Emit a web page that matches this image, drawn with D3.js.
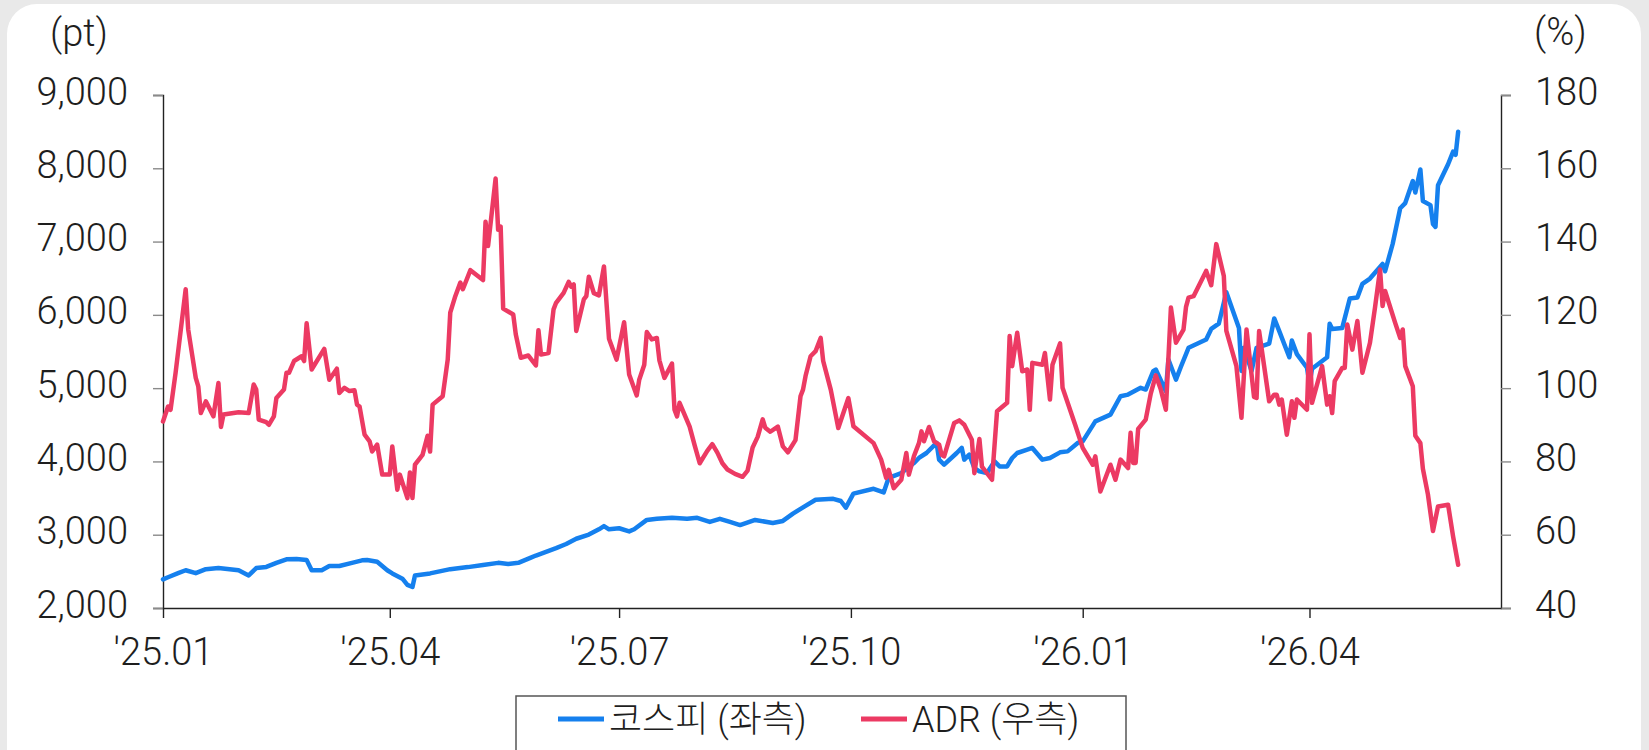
<!DOCTYPE html>
<html>
<head>
<meta charset="utf-8">
<script src="https://cdn.jsdelivr.net/npm/d3@7"></script>
<style>
    html, body { margin: 0; padding: 0; background: #e9e9e9; }
    #chart-area { width: 1649px; height: 750px; overflow: hidden; }
</style>
</head>
<body>
<div id="chart-area"></div>
<script>
// day offsets are counted from 2025-01-01
var startDay = "2025-01-01";

var kospiDays = [0, 2, 6, 9, 13, 17, 22, 30, 34, 37, 41, 45, 49, 53, 57, 59, 63, 66, 70, 75,
    79, 81, 85, 89, 91, 95, 97, 99, 100, 106, 114, 121, 127, 133, 137, 141, 146, 148, 156, 160,
    164, 169, 173, 175, 177, 181, 185, 187, 192, 196, 202, 208, 212, 217, 221, 225, 229, 235, 242, 246,
    250, 254, 259, 266, 269, 271, 274, 282, 286, 288, 293, 298, 300, 303, 307, 308, 310, 315, 317, 318,
    320, 322, 324, 327, 330, 332, 335, 337, 339, 343, 345, 349, 352, 356, 359, 363, 365, 370, 376, 380,
    383, 388, 390, 393, 394, 398, 399, 402, 404, 407, 414, 416, 419, 422, 427, 428, 429, 432, 434, 439,
    441, 443, 447, 448, 450, 454, 455, 456, 462, 463, 464, 468, 471, 474, 476, 479, 484, 485, 488, 491,
    493, 496, 497, 499, 500, 503, 504, 505, 506, 510, 512, 513, 514];
var kospiValues = [2390, 2420, 2475, 2515, 2475, 2530, 2545, 2515, 2445, 2545, 2560, 2615, 2665, 2670, 2655, 2515, 2515, 2573, 2573, 2616,
    2650, 2655, 2630, 2515, 2472, 2400, 2315, 2286, 2444, 2472, 2530, 2558, 2587, 2616, 2601, 2616, 2687, 2716, 2816, 2873,
    2945, 3002, 3074, 3117, 3074, 3088, 3045, 3074, 3202, 3217, 3231, 3217, 3231, 3174, 3217, 3174, 3131, 3202, 3159, 3188,
    3288, 3374, 3477, 3490, 3460, 3370, 3560, 3627, 3577, 3777, 3841, 3978, 4047, 4115, 4252, 4024, 3955, 4115, 4184, 4024,
    4092, 3910, 3864, 3841, 4000, 3932, 3932, 4047, 4115, 4160, 4184, 4024, 4047, 4124, 4137, 4252, 4274, 4547, 4639, 4889,
    4912, 5004, 4981, 5231, 5254, 4957, 5391, 5117, 5295, 5550, 5664, 5808, 5879, 6309, 5822, 5235, 5550, 5235, 5550, 5607,
    5951, 5779, 5421, 5650, 5464, 5278, 5063, 5264, 5421, 5879, 5808, 5822, 6223, 6237, 6423, 6495, 6695, 6595, 6967, 7454,
    7525, 7826, 7669, 7983, 7554, 7497, 7239, 7200, 7769, 8055, 8227, 8184, 8499];

var adrDays = [0, 2, 3, 5, 9, 10, 13, 14, 15, 17, 20, 22, 23, 24, 30, 34, 36, 37, 38, 41,
    42, 44, 45, 48, 49, 50, 52, 55, 56, 57, 59, 64, 66, 69, 70, 72, 74, 76, 77, 78,
    80, 82, 83, 85, 87, 90, 91, 93, 94, 97, 98, 99, 100, 103, 105, 106, 107, 111, 113, 114,
    116, 118, 119, 122, 127, 128, 129, 132, 133, 134, 135, 139, 140, 142, 145, 148, 149, 150, 153, 155,
    156, 159, 161, 162, 163, 164, 167, 168, 169, 171, 173, 175, 177, 180, 183, 185, 188, 189, 191, 192,
    194, 196, 197, 199, 202, 203, 204, 205, 209, 211, 213, 216, 218, 220, 222, 224, 227, 230, 232, 234,
    236, 238, 239, 241, 244, 246, 248, 251, 253, 254, 255, 257, 259, 261, 262, 265, 268, 272, 274, 282,
    285, 287, 288, 290, 293, 295, 296, 298, 300, 301, 302, 304, 306, 308, 309, 310, 314, 316, 318, 321,
    322, 324, 325, 329, 331, 335, 336, 337, 339, 341, 343, 344, 345, 349, 350, 352, 353, 356, 357, 362,
    365, 369, 370, 372, 376, 378, 380, 383, 384, 385, 386, 387, 390, 392, 394, 396, 398, 400, 402, 405,
    406, 407, 409, 414, 416, 418, 421, 422, 426, 428, 430, 433, 434, 435, 437, 439, 441, 442, 443, 444,
    446, 448, 449, 450, 454, 455, 456, 460, 462, 463, 464, 465, 468, 469, 470, 472, 474, 476, 479, 481,
    483, 484, 485, 489, 491, 492, 493, 496, 497, 499, 500, 502, 504, 506, 510, 512, 514];
var adrValues = [90.9, 95.0, 94.1, 104.2, 127.0, 116.0, 102.8, 100.5, 93.2, 96.4, 92.3, 101.4, 89.4, 92.8, 93.4, 93.2, 101.0, 99.6, 91.4, 90.7,
    90.0, 92.3, 97.3, 99.6, 104.2, 104.2, 107.4, 108.7, 107.4, 117.7, 105.1, 110.7, 102.3, 105.3, 98.7, 100.1, 99.2, 99.4, 95.5, 95.0,
    87.3, 85.5, 82.7, 84.6, 76.4, 76.4, 84.1, 72.3, 76.4, 70.0, 77.0, 70.0, 79.1, 81.8, 87.0, 82.7, 95.5, 97.8, 107.8, 120.6,
    125.1, 128.8, 127.0, 132.2, 129.5, 145.4, 138.8, 157.2, 143.2, 144.1, 121.7, 120.1, 114.7, 108.3, 108.9, 106.2, 115.8, 109.2, 109.6, 121.5,
    123.3, 126.0, 129.0, 127.7, 128.3, 115.6, 124.2, 125.1, 130.4, 125.9, 125.3, 133.2, 113.5, 107.8, 118.0, 103.7, 98.0, 102.3, 106.4, 115.3,
    113.3, 113.7, 107.6, 102.8, 106.7, 94.1, 92.3, 96.0, 89.5, 84.4, 79.5, 82.9, 84.7, 82.4, 79.5, 77.8, 76.6, 75.8, 77.5, 83.8,
    86.7, 91.5, 89.2, 88.1, 89.5, 84.1, 82.5, 85.8, 97.8, 99.6, 103.3, 108.7, 110.1, 113.7, 107.4, 99.6, 89.1, 97.3, 89.6, 85.0,
    80.5, 75.5, 77.7, 72.7, 75.0, 82.3, 76.4, 81.4, 85.0, 88.2, 85.5, 89.4, 85.5, 84.6, 81.8, 81.4, 90.5, 91.2, 90.0, 85.9,
    76.8, 86.1, 78.6, 75.0, 93.7, 96.0, 114.2, 106.0, 115.1, 104.6, 105.1, 94.1, 106.9, 106.4, 109.6, 96.9, 106.4, 112.2, 100.1, 90.0,
    83.7, 79.1, 81.4, 71.8, 79.1, 75.0, 80.5, 78.2, 87.8, 79.6, 79.6, 88.9, 91.4, 98.5, 103.5, 99.6, 94.1, 122.0, 112.4, 116.0,
    122.2, 124.7, 125.1, 132.0, 128.1, 139.3, 130.6, 115.6, 106.0, 91.9, 116.0, 97.6, 97.3, 115.6, 106.0, 96.4, 98.2, 98.2, 95.5, 96.9,
    87.3, 96.4, 91.9, 96.9, 94.1, 114.7, 96.0, 106.0, 95.5, 97.8, 93.2, 101.9, 105.5, 105.5, 117.4, 110.5, 118.3, 104.2, 112.4, 122.0,
    132.4, 122.4, 126.5, 117.8, 113.7, 116.0, 106.0, 100.5, 87.0, 85.0, 78.0, 71.0, 61.0, 67.7, 68.2, 59.5, 51.8];

var leftTicks  = [2000, 3000, 4000, 5000, 6000, 7000, 8000, 9000];
var rightTicks = [40, 60, 80, 100, 120, 140, 160, 180];
var xTicks     = ["2025-01-01", "2025-04-01", "2025-07-01", "2025-10-01", "2026-01-01", "2026-04-01"];
var xEnd       = "2026-06-16";
var seriesNames = ["코스피 (좌측)", "ADR (우측)"];
var seriesColors = ["#1580ee", "#ec3a63"];

var FONT = "Roboto, 'Noto Sans CJK KR', sans-serif";

var parseDay = d3.timeParse("%Y-%m-%d");
var start = parseDay(startDay);

var kospi = kospiDays.map((d, i) => ({ date: d3.timeDay.offset(start, d), value: kospiValues[i] }));
var adr   = adrDays.map((d, i) => ({ date: d3.timeDay.offset(start, d), value: adrValues[i] }));

var svg = d3.select("#chart-area")
            .append("svg")
            .attr("width", 1649)
            .attr("height", 750)
            .style("font-family", FONT);

// white card
svg.append("rect")
   .attr("x", 7).attr("y", 4)
   .attr("width", 1634).attr("height", 820)
   .attr("rx", 30).attr("ry", 30)
   .attr("fill", "#ffffff");

var plot = { left: 163, right: 1501, top: 95, bottom: 608 };

var x = d3.scaleTime()
          .domain([start, parseDay(xEnd)])
          .range([plot.left, plot.right]);

var yLeft = d3.scaleLinear().domain([2000, 9000]).range([plot.bottom, plot.top]);
var yRight = d3.scaleLinear().domain([40, 180]).range([plot.bottom, plot.top]);

function styleAxis(g) {
    g.select(".domain").attr("stroke", "#222").attr("stroke-width", 1.4);
    g.selectAll(".tick text")
     .attr("fill", "#1e1e1e")
     .attr("font-size", 38)
     .attr("font-weight", 300)
     .attr("font-family", FONT);
}

// left axis
var yLeftAxis = d3.axisLeft(yLeft)
                  .tickValues(leftTicks)
                  .tickFormat(d3.format(","))
                  .tickSize(10)
                  .tickPadding(25);
var gl = svg.append("g")
            .attr("transform", "translate(" + plot.left + ",0)")
            .call(yLeftAxis)
            .call(styleAxis);
gl.selectAll(".tick line").attr("stroke", "#8a8a8a").attr("stroke-width", 1.4);
gl.selectAll(".tick text").attr("dy", "0.24em");

// right axis
var yRightAxis = d3.axisRight(yRight)
                   .tickValues(rightTicks)
                   .tickSize(10)
                   .tickPadding(24);
var gr = svg.append("g")
            .attr("transform", "translate(" + plot.right + ",0)")
            .call(yRightAxis)
            .call(styleAxis);
gr.selectAll(".tick line").attr("stroke", "#8a8a8a").attr("stroke-width", 1.4);
gr.selectAll(".tick text").attr("dy", "0.24em");

// x axis
var xAxis = d3.axisBottom(x)
              .tickValues(xTicks.map(parseDay))
              .tickFormat(d3.timeFormat("'%y.%m"))
              .tickSize(10)
              .tickSizeOuter(0)
              .tickPadding(20);
var gx = svg.append("g")
            .attr("transform", "translate(0," + plot.bottom + ")")
            .call(xAxis)
            .call(styleAxis);
gx.selectAll(".tick line").attr("stroke", "#222").attr("stroke-width", 1.4);

// unit labels
svg.append("text").attr("x", 50).attr("y", 46)
   .attr("font-size", 38).attr("font-weight", 300).attr("fill", "#1e1e1e")
   .text("(pt)");
svg.append("text").attr("x", 1534).attr("y", 45)
   .attr("font-size", 38).attr("font-weight", 300).attr("fill", "#1e1e1e")
   .text("(%)");

// lines
var lineLeft = d3.line().x((d) => x(d.date)).y((d) => yLeft(d.value));
var lineRight = d3.line().x((d) => x(d.date)).y((d) => yRight(d.value));

svg.append("path")
   .datum(kospi)
   .attr("d", lineLeft)
   .attr("fill", "none")
   .attr("stroke", seriesColors[0])
   .attr("stroke-width", 4.5)
   .attr("stroke-linejoin", "round")
   .attr("stroke-linecap", "round");

svg.append("path")
   .datum(adr)
   .attr("d", lineRight)
   .attr("fill", "none")
   .attr("stroke", seriesColors[1])
   .attr("stroke-width", 4.5)
   .attr("stroke-linejoin", "round")
   .attr("stroke-linecap", "round");

// legend
var legend = svg.append("g");
legend.append("rect")
      .attr("x", 516).attr("y", 696)
      .attr("width", 610).attr("height", 70)
      .attr("fill", "#ffffff")
      .attr("stroke", "#555")
      .attr("stroke-width", 1.5);

var legendX = [558, 861];
seriesNames.forEach(function(name, i) {
    legend.append("line")
          .attr("x1", legendX[i]).attr("x2", legendX[i] + 46)
          .attr("y1", 719).attr("y2", 719)
          .attr("stroke", seriesColors[i])
          .attr("stroke-width", 5);
    legend.append("text")
          .attr("x", legendX[i] + 51).attr("y", 732)
          .attr("font-size", 36).attr("font-weight", 300)
          .attr("fill", "#1e1e1e")
          .text(name);
});
</script>
</body>
</html>
